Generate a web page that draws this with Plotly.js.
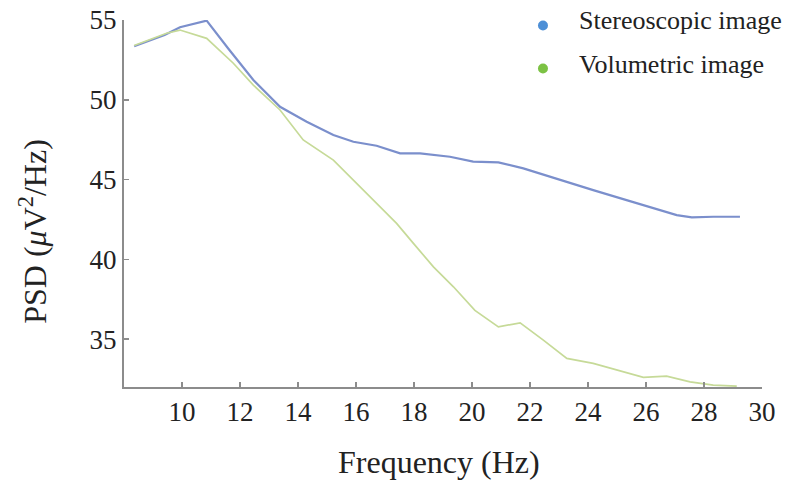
<!DOCTYPE html>
<html>
<head>
<meta charset="utf-8">
<script src="https://cdn.plot.ly/plotly-3.0.1.min.js"></script>
<style>html,body{margin:0;padding:0;background:#fff;}#chart{width:788px;height:484px;}</style>
</head>
<body>
<div id="chart"></div>
<script>
// Stereoscopic image
const freqStereo = [8.35, 9.4, 9.93, 10.85, 11.6, 12.46, 13.38, 14.3, 15.22, 15.91, 16.71, 17.52, 18.21, 19.24, 20.04, 20.91, 21.77, 23.03, 24.18, 25.33, 26.48, 27.06, 27.58, 28.32, 29.24];
const psdStereo = [53.35, 54.06, 54.55, 54.96, 53.2, 51.24, 49.56, 48.62, 47.79, 47.37, 47.12, 46.64, 46.64, 46.43, 46.12, 46.08, 45.70, 44.97, 44.34, 43.71, 43.09, 42.77, 42.63, 42.67, 42.67];
// Volumetric image
const freqVolume = [8.35, 9.47, 9.93, 10.85, 11.77, 12.46, 13.38, 14.18, 15.22, 15.91, 16.6, 17.4, 17.98, 18.67, 19.36, 20.1, 20.91, 21.66, 22.46, 23.27, 24.18, 24.99, 25.91, 26.71, 27.52, 28.32, 29.13];
const psdVolume = [53.4, 54.17, 54.37, 53.85, 52.29, 50.92, 49.36, 47.48, 46.22, 44.97, 43.71, 42.25, 41.0, 39.53, 38.28, 36.8, 35.77, 36.02, 34.94, 33.79, 33.48, 33.06, 32.60, 32.68, 32.32, 32.12, 32.05];
const seriesNames = ["Stereoscopic image", "Volumetric image"];
const lineColors = ["#7b8fcc", "#c6da98"];
const legendColors = ["#4d8fd6", "#7cc244"];
const xTicks = [10, 12, 14, 16, 18, 20, 22, 24, 26, 28, 30];
const yTicks = [35, 40, 45, 50, 55];

const serif = "'Liberation Serif', 'Times New Roman', serif";
const traces = [
  {x: freqStereo, y: psdStereo, mode: "lines", name: seriesNames[0], line: {color: lineColors[0], width: 2.2}, showlegend: false, hoverinfo: "skip"},
  {x: freqVolume, y: psdVolume, mode: "lines", name: seriesNames[1], line: {color: lineColors[1], width: 1.7}, showlegend: false, hoverinfo: "skip"}
];

const axisCommon = {
  showgrid: false, zeroline: false, showline: true, linecolor: "#8c8c8c", linewidth: 2,
  ticks: "inside", ticklen: 5, tickwidth: 1.5, tickcolor: "#8c8c8c",
  tickfont: {family: serif, size: 27, color: "#222"}
};

// manual legend (paper coordinates)
const legX = 0.6567, legTextX = 0.710;
const legDotY = [0.985, 0.868], legTextY = [1.0, 0.880];
const rx = 5 / 638, ry = 5 / 367;
const legendShapes = seriesNames.map((n, i) => ({
  type: "circle", xref: "paper", yref: "paper",
  x0: legX - rx, x1: legX + rx, y0: legDotY[i] - ry, y1: legDotY[i] + ry,
  fillcolor: legendColors[i], line: {width: 0}
}));
const legendTexts = seriesNames.map((n, i) => ({
  text: n, xref: "paper", yref: "paper", x: legTextX, y: legTextY[i], xanchor: "left", yanchor: "middle",
  showarrow: false, font: {family: serif, size: 26, color: "#222"}
}));

const layout = {
  width: 788, height: 484,
  margin: {l: 124, r: 26, t: 20, b: 97},
  paper_bgcolor: "#fff", plot_bgcolor: "#fff",
  font: {family: serif},
  xaxis: Object.assign({}, axisCommon, {range: [8, 30], tickvals: xTicks, ticktext: xTicks.map(String)}),
  yaxis: Object.assign({}, axisCommon, {range: [32, 55], tickvals: yTicks, ticktext: yTicks.map(String)}),
  showlegend: false,
  shapes: legendShapes,
  annotations: [
    {text: "Frequency (Hz)", xref: "paper", yref: "paper", x: 0.494, y: -0.205, xanchor: "center", yanchor: "middle",
     showarrow: false, font: {family: serif, size: 32, color: "#222"}},
    {text: "PSD (<i>μ</i>V<sup>2</sup>/Hz)", xref: "paper", yref: "paper", x: -0.143, y: 0.425, xanchor: "center", yanchor: "middle",
     textangle: -90, showarrow: false, font: {family: serif, size: 32, color: "#222"}}
  ].concat(legendTexts)
};

Plotly.newPlot("chart", traces, layout, {displayModeBar: false, staticPlot: true});
</script>
</body>
</html>
